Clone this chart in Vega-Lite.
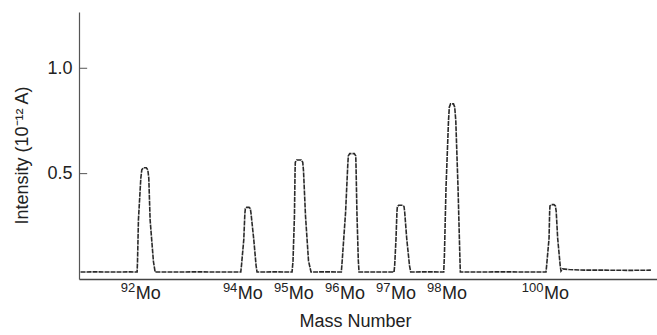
{
  "$schema": "https://vega.github.io/schema/vega-lite/v6.json",
  "width": 578,
  "height": 267,
  "autosize": {"type": "none"},
  "padding": {"left": 79, "top": 12, "right": 0, "bottom": 56},
  "background": "white",
  "config": {
    "view": {"stroke": null},
    "font": "Liberation Sans",
    "axis": {"grid": false}
  },
  "datasets": {
    "trace": [
      {"mass": 90.72, "intensity": 0.033},
      {"mass": 91.0, "intensity": 0.034},
      {"mass": 91.4, "intensity": 0.033},
      {"mass": 91.7, "intensity": 0.034},
      {"mass": 91.829, "intensity": 0.033},
      {"mass": 91.837, "intensity": 0.083},
      {"mass": 91.855, "intensity": 0.281},
      {"mass": 91.902, "intensity": 0.479},
      {"mass": 91.921, "intensity": 0.518},
      {"mass": 91.951, "intensity": 0.528},
      {"mass": 92.009, "intensity": 0.528},
      {"mass": 92.039, "intensity": 0.518},
      {"mass": 92.058, "intensity": 0.479},
      {"mass": 92.084, "intensity": 0.281},
      {"mass": 92.149, "intensity": 0.083},
      {"mass": 92.182, "intensity": 0.033},
      {"mass": 92.5, "intensity": 0.033},
      {"mass": 93.0, "intensity": 0.034},
      {"mass": 93.5, "intensity": 0.033},
      {"mass": 93.861, "intensity": 0.033},
      {"mass": 93.875, "intensity": 0.064},
      {"mass": 93.92, "intensity": 0.187},
      {"mass": 93.941, "intensity": 0.309},
      {"mass": 93.951, "intensity": 0.334},
      {"mass": 93.976, "intensity": 0.34},
      {"mass": 94.024, "intensity": 0.34},
      {"mass": 94.049, "intensity": 0.334},
      {"mass": 94.063, "intensity": 0.309},
      {"mass": 94.116, "intensity": 0.187},
      {"mass": 94.161, "intensity": 0.064},
      {"mass": 94.18, "intensity": 0.033},
      {"mass": 94.5, "intensity": 0.034},
      {"mass": 94.866, "intensity": 0.033},
      {"mass": 94.885, "intensity": 0.086},
      {"mass": 94.913, "intensity": 0.299},
      {"mass": 94.925, "intensity": 0.512},
      {"mass": 94.93, "intensity": 0.554},
      {"mass": 94.958, "intensity": 0.565},
      {"mass": 95.048, "intensity": 0.565},
      {"mass": 95.076, "intensity": 0.554},
      {"mass": 95.091, "intensity": 0.512},
      {"mass": 95.13, "intensity": 0.299},
      {"mass": 95.189, "intensity": 0.086},
      {"mass": 95.238, "intensity": 0.033},
      {"mass": 95.5, "intensity": 0.034},
      {"mass": 95.832, "intensity": 0.033},
      {"mass": 95.85, "intensity": 0.089},
      {"mass": 95.915, "intensity": 0.314},
      {"mass": 95.958, "intensity": 0.539},
      {"mass": 95.969, "intensity": 0.584},
      {"mass": 95.997, "intensity": 0.595},
      {"mass": 96.087, "intensity": 0.595},
      {"mass": 96.115, "intensity": 0.584},
      {"mass": 96.12, "intensity": 0.539},
      {"mass": 96.138, "intensity": 0.314},
      {"mass": 96.165, "intensity": 0.089},
      {"mass": 96.179, "intensity": 0.033},
      {"mass": 96.5, "intensity": 0.033},
      {"mass": 96.865, "intensity": 0.033},
      {"mass": 96.878, "intensity": 0.065},
      {"mass": 96.904, "intensity": 0.192},
      {"mass": 96.922, "intensity": 0.318},
      {"mass": 96.931, "intensity": 0.344},
      {"mass": 96.957, "intensity": 0.35},
      {"mass": 97.035, "intensity": 0.35},
      {"mass": 97.061, "intensity": 0.344},
      {"mass": 97.074, "intensity": 0.318},
      {"mass": 97.114, "intensity": 0.192},
      {"mass": 97.168, "intensity": 0.065},
      {"mass": 97.192, "intensity": 0.033},
      {"mass": 97.5, "intensity": 0.034},
      {"mass": 97.839, "intensity": 0.033},
      {"mass": 97.853, "intensity": 0.113},
      {"mass": 97.884, "intensity": 0.432},
      {"mass": 97.933, "intensity": 0.751},
      {"mass": 97.949, "intensity": 0.815},
      {"mass": 97.973, "intensity": 0.831},
      {"mass": 98.031, "intensity": 0.831},
      {"mass": 98.055, "intensity": 0.815},
      {"mass": 98.076, "intensity": 0.751},
      {"mass": 98.12, "intensity": 0.432},
      {"mass": 98.155, "intensity": 0.113},
      {"mass": 98.165, "intensity": 0.033},
      {"mass": 98.5, "intensity": 0.033},
      {"mass": 99.0, "intensity": 0.034},
      {"mass": 99.5, "intensity": 0.033},
      {"mass": 99.844, "intensity": 0.033},
      {"mass": 99.857, "intensity": 0.065},
      {"mass": 99.904, "intensity": 0.193},
      {"mass": 99.916, "intensity": 0.321},
      {"mass": 99.922, "intensity": 0.347},
      {"mass": 99.95, "intensity": 0.353},
      {"mass": 100.0, "intensity": 0.353},
      {"mass": 100.028, "intensity": 0.347},
      {"mass": 100.044, "intensity": 0.321},
      {"mass": 100.073, "intensity": 0.193},
      {"mass": 100.122, "intensity": 0.065},
      {"mass": 100.138, "intensity": 0.038},
      {"mass": 100.17, "intensity": 0.048},
      {"mass": 100.3, "intensity": 0.045},
      {"mass": 100.6, "intensity": 0.042},
      {"mass": 101.0, "intensity": 0.042},
      {"mass": 101.5, "intensity": 0.041},
      {"mass": 101.9, "intensity": 0.042}
    ],
    "labels": [
      {"mass": 92, "iso": "92"},
      {"mass": 94, "iso": "94"},
      {"mass": 95, "iso": "95"},
      {"mass": 96, "iso": "96"},
      {"mass": 97, "iso": "97"},
      {"mass": 98, "iso": "98"},
      {"mass": 100, "iso": "100"}
    ],
    "ticks": [
      {"value": 0.5},
      {"value": 1.0}
    ]
  },
  "layer": [
    {
      "data": {"name": "trace"},
      "mark": {"type": "line", "color": "#2a2a2a", "strokeWidth": 1.6, "strokeDash": [5, 1], "interpolate": "linear"},
      "encoding": {
        "x": {
          "field": "mass", "type": "quantitative",
          "scale": {"domain": [90.69, 102.02], "nice": false, "zero": false},
          "axis": {
            "title": "Mass Number", "ticks": false, "labels": false,
            "domainColor": "#444", "domainWidth": 1.3,
            "titleFont": "Liberation Sans", "titleFontSize": 18, "titleFontWeight": "normal", "titleColor": "#222",
            "titleX": 276, "titleY": 47, "titleAlign": "center", "titleBaseline": "alphabetic"
          }
        },
        "y": {
          "field": "intensity", "type": "quantitative",
          "scale": {"domain": [0, 1.267], "nice": false},
          "axis": {
            "title": "Intensity (10⁻¹² A)", "values": [0.5, 1.0], "format": ".1f",
            "ticks": false, "domainColor": "#555", "domainWidth": 1.2,
            "labelFontSize": 18, "labelColor": "#222", "labelPadding": 7, "labelFont": "Liberation Sans",
            "titleFont": "Liberation Sans", "titleFontSize": 18, "titleFontWeight": "normal", "titleColor": "#222",
            "titleX": -52, "titleY": 143, "titleAlign": "center", "titleBaseline": "alphabetic", "titleAngle": -90
          }
        }
      }
    },
    {
      "data": {"name": "ticks"},
      "mark": {"type": "rule", "color": "#555", "strokeWidth": 1},
      "encoding": {
        "y": {"field": "value", "type": "quantitative"},
        "x": {"datum": 90.69, "type": "quantitative"},
        "x2": {"datum": 90.85}
      }
    },
    {
      "data": {"name": "labels"},
      "mark": {"type": "text", "text": "Mo", "align": "left", "baseline": "alphabetic", "fontSize": 18, "dx": -10, "dy": 20, "color": "#222", "font": "Liberation Sans"},
      "encoding": {
        "x": {"field": "mass", "type": "quantitative"},
        "y": {"datum": 0, "type": "quantitative"}
      }
    },
    {
      "data": {"name": "labels"},
      "mark": {"type": "text", "align": "right", "baseline": "alphabetic", "fontSize": 13, "dx": -10.5, "dy": 13, "color": "#222", "font": "Liberation Sans"},
      "encoding": {
        "x": {"field": "mass", "type": "quantitative"},
        "y": {"datum": 0, "type": "quantitative"},
        "text": {"field": "iso"}
      }
    }
  ]
}
